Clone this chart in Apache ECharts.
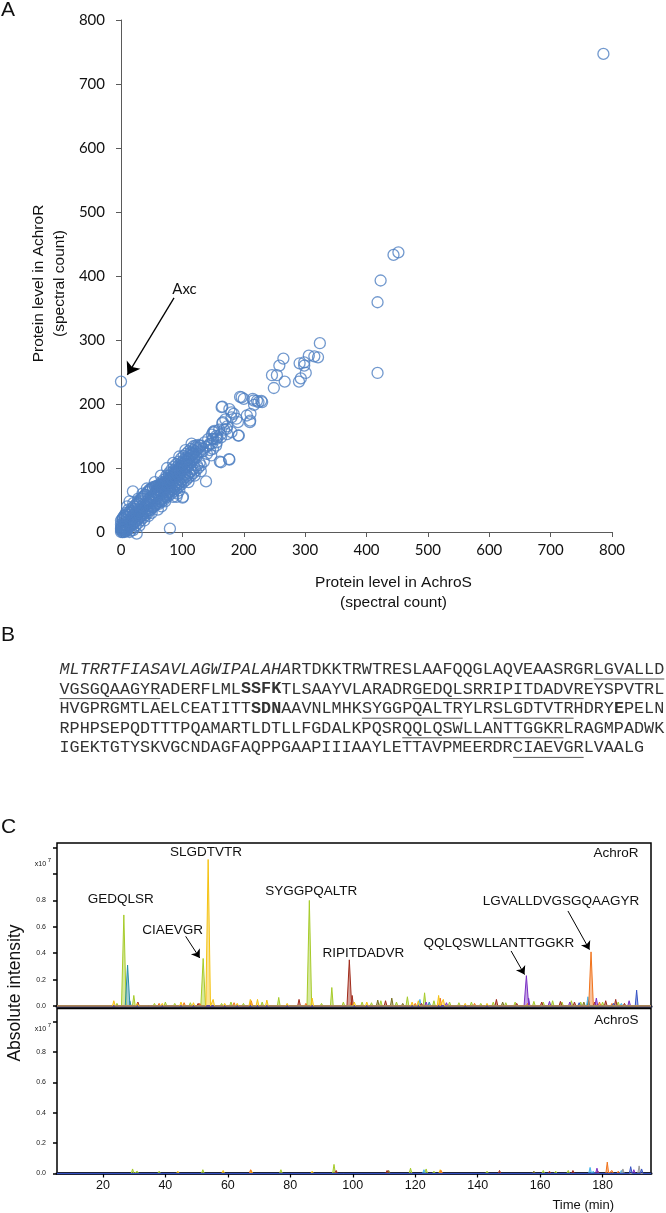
<!DOCTYPE html>
<html><head><meta charset="utf-8">
<script src="https://cdn.jsdelivr.net/npm/echarts@6/dist/echarts.min.js"></script>
<style>html,body{margin:0;padding:0;background:#fff}#c{width:666px;height:1213px}</style>
</head><body><div id="c"></div>
<script>
// ===== Panel A: protein spectral counts [AchroS, AchroR]
const spectralCounts = [
 [0,0],[2,3],[4,4],[6,7],[8,8],[10,11],[12,12],[14,15],[16,16],[18,19],[20,20],[22,23],[24,24],[26,27],[28,28],[30,31],[32,33],[34,35],[36,37],[38,39],[40,41],[42,44],[44,45],[46,48],[48,49],[50,52],[52,53],[54,56],[56,57],[58,60],[60,62],[62,64],[64,66],[66,68],[68,70],[70,72],[72,75],[74,76],[76,79],[78,80],[80,83],[82,85],[84,87],[86,89],[88,91],[90,93],[92,96],[94,97],[96,100],[98,101],[100,104],[103,107],[106,110],[109,113],[112,116],[115,120],[118,123],[121,126],[124,129],[127,132],
 [1,10],[4,16],[7,19],[10,24],[13,27],[16,30],[19,33],[22,36],[25,40],[28,44],[31,47],[34,52],[37,56],[40,58],[43,62],[46,66],[49,68],[52,70],[55,71],[58,72],[62,74],[66,78],[70,82],[74,88],[78,92],[82,97],[86,102],[90,106],[94,110],[98,115],[102,119],[106,122],[110,126],[114,130],[118,134],
 [3,0],[6,2],[9,4],[12,6],[15,9],[18,11],[21,14],[24,16],[27,19],[30,22],[33,24],[36,27],[39,29],[42,32],[45,34],[48,36],[51,39],[54,41],[57,43],[60,46],[63,48],[66,51],[69,53],[72,56],[75,58],[78,61],[81,64],[84,66],[87,69],[90,72],[93,74],[96,77],[99,80],[102,83],[105,86],[108,88],[111,92],[114,95],[117,98],[120,100],[124,104],[128,108],
 [1,7],[5,11],[9,15],[13,19],[17,23],[21,27],[25,31],[29,35],[33,39],[37,43],[41,47],[45,51],[49,55],[53,59],[57,63],[61,67],[65,71],[69,75],[73,79],[77,83],[81,87],[85,91],[89,95],[93,99],[97,103],[101,107],[105,111],[109,115],[113,119],[117,122],
 [7,1],[11,5],[15,9],[19,13],[23,17],[27,21],[31,25],[35,29],[39,33],[43,37],[47,41],[51,45],[55,49],[59,53],[63,57],[67,61],[71,65],[75,69],[79,73],[83,77],[87,81],[91,85],[95,89],[99,93],[103,97],[107,101],[111,105],[115,109],[119,113],[123,117],
 [0,18],[3,20],[6,23],[9,27],[12,30],[15,33],[18,37],[21,40],[24,43],[27,46],[30,49],[33,52],[36,55],[39,58],[44,63],[48,66],[52,68],[56,70],[60,71],[64,73],[68,76],
 [16,2],[20,6],[24,10],[28,14],[32,18],[36,22],[40,26],[44,30],[48,34],[52,38],[56,42],[64,50],[68,54],[72,58],[76,62],[80,66],[84,70],[88,74],[92,78],[96,82],[100,86],[104,90],
 [62,44],[66,47],[70,50],[74,54],[78,57],[82,60],[86,64],[90,67],[94,71],[98,74],[102,78],[106,81],[110,85],[114,88],[118,92],[122,96],[126,100],[130,104],
 [58,66],[62,70],[66,74],[70,78],[74,84],[78,88],[82,92],[86,96],[90,100],[94,104],[98,108],[102,112],[106,116],[110,120],[114,124],[118,128],[122,132],[126,136],
 [60,58],[64,62],[68,66],[72,70],[76,74],[80,78],[84,82],[88,86],[92,90],[96,94],[100,98],[104,102],[108,106],[112,110],[116,114],[120,118],[125,122],[129,126],[133,130],
 [0,3],[0,6],[2,0],[5,0],[8,1],[1,5],[3,8],[5,12],[0,12],[2,20],[6,26],[10,2],[14,0],[20,3],[30,10],[38,18],[45,25],[50,30],[60,35],[66,40],[72,48],[85,55],[92,60],[95,65],[110,78],[120,88],[130,95],
 [3,22],[8,30],[10,40],[14,48],[5,25],[12,35],[20,45],[28,52],[35,60],[42,68],[55,78],[65,88],[75,100],[85,108],[95,118],[105,128],[115,138],
 [130,135],[133,126],[136,140],[139,133],[142,145],[145,138],[148,152],[150,145],[152,158],[155,150],[157,148],[160,160],[162,152],[165,170],[168,160],[170,176],[173,165],[140,122],[145,128],[150,130],[135,110],[155,135],
 [324,295],[315,274.5],[306,275.5],[321,273],[298.5,265],[291,263.6],[298.5,260],[301,248.5],[293,240],[290,235],[264.6,271],[258,260],[254,245],[246,245],[249,225],[266.7,235],
 [194,211],[200,208],[214.7,208],[221.6,205],[228.6,205],[216.8,198.6],[164,195],[176.6,192],[183.6,184.6],[180,179],[211,184.6],[210,171.6],[190.5,171.6],[166,171.6],[192,150.8],[180,156],[173,153],[163,148],[152,156],[149,145.6],[156,140],[142,135],[128.6,135],[121.6,135],[147,119.6],[163,109],[176.6,113],[138.5,79],[100.4,53.6],[79.7,5.2],[19.4,63.4],[25.6,-2.6],
 [150,156],[155.5,145.6],[148,138],[172,161],[180,187],[188,177],[205,182],[210.5,174],[216,205.5],[224,203],[230,203],[161,110],[90.6,55],[101,55],[176,114],[191,150.6],[165,196],[196.5,210.5],
 [418,248.5],[0,235],[418,359],[423,393],[444,433],[452,437],[786,747]
];
const scatterTicks = [0,100,200,300,400,500,600,700,800];
const axcArrow = [[86.4,365.9],[10.4,245.6]];

// ===== Panel B: sequence segments  (n normal, i italic, b bold, u underlined)
const sequenceLines = [
 [['MLTRRTFIASAVLAGWIPALAHA','i'],['RTDKKTRWTRESLAAFQQGLAQVEAASRGR','n'],['LGVALLD','u']],
 [['VGSGQAAGYR','u'],['ADERFLML','n'],['SSFK','b'],['TLSAAYVLARADR','n'],['GEDQLSRRIPITDADVR','u'],['EYSPVTRL','n']],
 [['HVGPRGMTLAELCEATITT','n'],['SDN','b'],['AAVNLMHK','n'],['SYGGPQALTR','u'],['YLR','n'],['SLGDTVTR','u'],['HDRY','n'],['E','b'],['PELN','n']],
 [['RPHPSEPQDTTTPQAMARTLDTLLFGDALKPQSR','n'],['QQLQSWLLANTTGGKR','u'],['LRAGMPADWK','n']],
 [['IGEKTGTYSKVGCNDAGFAQPPGAAPIIIAAYLETTAVPMEERDR','n'],['CIAEVGR','u'],['LVAALG','n']]
];

// ===== Panel C: chromatogram peaks [time (min), intensity x10^7]
const timeTicks = [20,40,60,80,100,120,140,160,180];
const intensityTicks = [0,0.2,0.4,0.6,0.8];
const rYellowGreen = [[24.5,0.02],[26.7,0.69],[29.9,0.08],[33,0.015],[36.5,0.02],[40,0.03],[43,0.02],[48,0.025],[52.1,0.36],[58,0.02],[61,0.03],[65,0.02],[71,0.03],[76.3,0.065],[86.1,0.80],[90,0.02],[93.3,0.14],[97,0.03],[103,0.03],[106,0.025],[109,0.04],[114,0.03],[117.5,0.07],[123,0.10],[126,0.04],[131,0.03],[134,0.025],[138,0.03],[141,0.02],[145,0.03],[149,0.025],[152,0.03],[158,0.035],[161,0.03],[164,0.04],[167,0.03],[170,0.04],[173,0.03],[180,0.03],[185,0.03]];
const rGold = [[23.5,0.04],[31,0.02],[35,0.015],[39,0.02],[45,0.03],[49,0.025],[53.7,1.11],[55.3,0.05],[59,0.02],[63,0.02],[67.2,0.05],[69.5,0.05],[72.5,0.045],[79,0.02],[87,0.06],[100.5,0.03],[104.5,0.03],[119,0.03],[121,0.04],[127.5,0.08],[129,0.05],[136,0.02],[143,0.02]];
const rOrange = [[38,0.02],[46,0.025],[51,0.02],[62,0.025],[67.5,0.04],[85,0.02],[99.5,0.03],[120,0.02],[128,0.06],[139,0.02],[156,0.02],[176.3,0.41],[179,0.03],[183,0.02]];
const rTeal = [[27.9,0.31],[28.6,0.04],[124.5,0.03],[175.5,0.04]];
const rDarkRed = [[31.2,0.03],[50.5,0.02],[82.8,0.05],[98.9,0.35],[99.8,0.08],[110.5,0.04],[122,0.02],[146,0.05],[152.5,0.02],[160.5,0.03],[166.5,0.035],[171,0.03],[177.5,0.03],[181,0.04],[184.2,0.05],[187,0.02]];
const rPurple = [[123.5,0.03],[130,0.025],[155.6,0.23],[156.3,0.06],[163,0.035],[169.5,0.03],[178,0.06],[188.5,0.04]];
const rBlue = [[172.5,0.025],[183.5,0.02],[190.9,0.12]];
const rLightBlue = [[121.5,0.05],[175.3,0.07],[186,0.02]];
const rOlive = [[108,0.045],[112.5,0.06],[116,0.02],[148,0.03],[174,0.03]];

const sYellowGreen = [[25,0.01],[29.5,0.03],[31,0.015],[38,0.015],[40.5,0.01],[52,0.025],[55,0.01],[63,0.01],[77,0.025],[80,0.01],[94,0.06],[99,0.01],[113,0.01],[118.5,0.035],[123.5,0.03],[126,0.015],[133,0.01],[143,0.015],[150,0.01],[161,0.02],[165,0.015],[169,0.02]];
const sGold = [[24,0.01],[34,0.01],[44,0.015],[49,0.01],[58.5,0.02],[67.5,0.02],[71,0.01],[87,0.015],[106,0.01],[128,0.025],[138,0.01],[157,0.01]];
const sOrange = [[50,0.01],[67.3,0.025],[86,0.01],[128.3,0.02],[146,0.01],[181.5,0.075],[183,0.02],[185,0.015]];
const sDarkRed = [[84,0.012],[94.7,0.02],[111,0.02],[147,0.02],[163,0.015],[170.5,0.02],[178.5,0.015]];
const sLightBlue = [[122.8,0.025],[176,0.04],[177,0.015],[186,0.02]];
const sPurple = [[127,0.01],[159,0.01],[178.2,0.035],[190,0.025]];
const sBlue = [[189,0.045],[192.5,0.03]];
const sGray = [[186.5,0.03],[191.7,0.05]];
const sOlive = [[111.5,0.02],[158,0.015],[174,0.01]];

const peakLabels = [
 ['SLGDTVTR',53.0,1.165],['GEDQLSR',25.7,0.808],['CIAEVGR',42.3,0.574],['SYGGPQALTR',86.7,0.871],
 ['RIPITDADVR',103.4,0.40],['QQLQSWLLANTTGGKR',146.8,0.473],['LGVALLDVGSGQAAGYR',166.7,0.79]
];
const peakArrows = [[[46.5,0.528],[51.0,0.364]],[[150.7,0.417],[155.0,0.238]],[[168.9,0.72],[175.8,0.427]]];

// ===== build
const T_MIN = 5.3, T_MAX = 195.5;
const COLORS = {yg:'#a6cb2a', gold:'#f5c211', orange:'#f0731c', teal:'#2b8ea5', red:'#a02c1c', purple:'#7a2ec4', blue:'#3552c4', lblue:'#46b4ea', olive:'#77701f', gray:'#9a9a9a'};
function trace(peaks){
  const pts = [[T_MIN,0]];
  peaks.slice().sort((a,b)=>a[0]-b[0]).forEach(([t,h])=>{
    const w = h > 0.15 ? 0.75 : 0.45;
    pts.push([t-w,0],[t,h],[t+w,0]);
  });
  pts.push([T_MAX,0]);
  return pts;
}
function lineSeries(peaks, color, gi, extra){
  return Object.assign({
    type:'line', xAxisIndex:gi, yAxisIndex:gi, data:trace(peaks), showSymbol:false, symbol:'none',
    silent:true, clip:true, lineStyle:{color:color, width:1}, areaStyle:{color:color, opacity:0.45}
  }, extra||{});
}

const chart = echarts.init(document.getElementById('c'), null, {renderer:'canvas'});
const sansA = 'Lato';
const axisA = (isX)=>({
  type:'value', gridIndex:0, min:0, max:800, interval:100,
  axisLine:{show:true, onZero:false, lineStyle:{color:'#5a5a5a', width:1}},
  axisTick:{show:true, length:5, lineStyle:{color:'#5a5a5a', width:1}},
  splitLine:{show:false},
  axisLabel:{fontFamily:sansA, fontSize:15, color:'#111', margin: isX ? 11 : 16}
});
const axisCx = (gi, showLabels)=>({
  type:'value', gridIndex:gi, min:T_MIN, max:T_MAX,
  axisLine:{show:true, onZero:false, lineStyle:{color:'#1e2238', width:3}},
  axisTick:{show:showLabels, length:4, customValues:timeTicks, lineStyle:{color:'#000', width:1.2}},
  axisLabel:{show:showLabels, customValues:timeTicks, fontFamily:'Liberation Sans', fontSize:12.5, color:'#111', margin:6},
  splitLine:{show:false}
});
const axisCy = (gi, max, tickVals)=>({
  type:'value', gridIndex:gi, min:0, max:max,
  axisLine:{show:false},
  axisTick:{show:true, length:4, customValues:tickVals, lineStyle:{color:'#000', width:1.5}},
  axisLabel:{customValues:intensityTicks, formatter:(v)=>v.toFixed(1), fontFamily:'Liberation Sans', fontSize:7, color:'#222', margin:11},
  splitLine:{show:false}
});

const series = [
  { type:'scatter', xAxisIndex:0, yAxisIndex:0, data:spectralCounts, symbol:'circle', symbolSize:11, clip:false, silent:true,
    itemStyle:{color:'rgba(0,0,0,0)', borderColor:'#4f7fc2', borderWidth:1.3},
    markLine:{silent:true, symbol:['none','arrow'], symbolSize:12, label:{show:false},
      lineStyle:{color:'#000', width:1.3, type:'solid'},
      data:[[{coord:axcArrow[0]},{coord:axcArrow[1]}]]}
  },
  lineSeries(rYellowGreen, COLORS.yg, 1, {markLine:{silent:true, symbol:['none','arrow'], symbolSize:8, label:{show:false},
      lineStyle:{color:'#000', width:1, type:'solid'}, data: peakArrows.map(a=>[{coord:a[0]},{coord:a[1]}])}}),
  lineSeries(rOlive, COLORS.olive, 1),
  lineSeries(rLightBlue, COLORS.lblue, 1),
  lineSeries(rTeal, COLORS.teal, 1),
  lineSeries(rOrange, COLORS.orange, 1),
  lineSeries(rDarkRed, COLORS.red, 1),
  lineSeries(rPurple, COLORS.purple, 1),
  lineSeries(rBlue, COLORS.blue, 1),
  lineSeries(rGold, COLORS.gold, 1),
  lineSeries(sYellowGreen, COLORS.yg, 2),
  lineSeries(sOlive, COLORS.olive, 2),
  lineSeries(sGold, COLORS.gold, 2),
  lineSeries(sLightBlue, COLORS.lblue, 2),
  lineSeries(sOrange, COLORS.orange, 2),
  lineSeries(sDarkRed, COLORS.red, 2),
  lineSeries(sPurple, COLORS.purple, 2),
  lineSeries(sGray, COLORS.gray, 2),
  lineSeries(sBlue, COLORS.blue, 2)
];

chart.setOption({
  animation:false,
  grid:[
    {left:121, top:20, width:491, height:512},
    {left:57, top:843, width:594, height:163, show:true, borderColor:'#000', borderWidth:1.5},
    {left:57, top:1008.5, width:594, height:165, show:true, borderColor:'#000', borderWidth:1.5}
  ],
  xAxis:[axisA(true), axisCx(1,false), axisCx(2,true)],
  yAxis:[axisA(false), axisCy(1,1.235,[0,0.2,0.4,0.6,0.8,1.0,1.2]), axisCy(2,1.086,[0,0.2,0.4,0.6,0.8,1.0])],
  series:series
});

// ===== annotations / text
const g = [];
function txt(x,y,text,font,align,rot){
  const el = {type:'text', x:x, y:y, silent:true,
    style:Object.assign({text:text, fill:'#111', textAlign:align||'center', textVerticalAlign:'middle', verticalAlign:'middle'}, font)};
  if (rot) el.rotation = rot;
  g.push(el);
}
// panel letters
const letterFont = {fontSize:21,fontFamily:'Liberation Sans'};
txt(8,10,'A',letterFont);
txt(8,635,'B',letterFont);
txt(8.5,827,'C',letterFont);
// panel A titles
const titleFont = {fontSize:15.5, fontFamily:'Liberation Sans'};
txt(393.5,583,'Protein level in AchroS',titleFont);
txt(393.5,603,'(spectral count)',titleFont);
txt(39,283.5,'Protein level in AchroR',titleFont,'center',Math.PI/2);
txt(59.5,283.5,'(spectral count)',titleFont,'center',Math.PI/2);
const axcPx = chart.convertToPixel({gridIndex:0}, axcArrow[0]);
txt(axcPx[0]+10.5, axcPx[1]-8.5,'Axc',{fontSize:15,fontFamily:sansA});

// panel B sequence
const CW = 10.08, X0 = 59.5;
sequenceLines.forEach((segs,li)=>{
  const y = 669.5 + li*19.6;
  let idx = 0;
  segs.forEach(([s,k])=>{
    const x = X0 + idx*CW;
    g.push({type:'text', x:x, y:y, silent:true, style:{text:s, fill:'#333', fontFamily:'Liberation Mono', fontSize:16.8,
      fontStyle: k==='i'?'italic':'normal', fontWeight: k==='b'?'bold':'normal', textAlign:'left', textVerticalAlign:'middle', verticalAlign:'middle'}});
    if (k==='u') g.push({type:'line', silent:true, shape:{x1:x, y1:y+9.5, x2:x+s.length*CW, y2:y+9.5}, style:{stroke:'#555', lineWidth:1}});
    idx += s.length;
  });
});

// panel C texts
const lblFont = {fontSize:13.5, fontFamily:'Liberation Sans'};
peakLabels.forEach(([s,t,v])=>{
  const p = chart.convertToPixel({gridIndex:1}, [t,v]);
  txt(p[0],p[1],s,lblFont);
});
txt(638.5,853,'AchroR',lblFont,'right');
txt(638.5,1020,'AchroS',lblFont,'right');
const smallFont = {fontSize:7,fontFamily:'Liberation Sans'};
const supFont = {fontSize:6,fontFamily:'Liberation Sans'};
txt(40.5,864.5,'x10',smallFont);
txt(49.5,860.5,'7',supFont);
txt(40.5,1029.5,'x10',smallFont);
txt(49.5,1025.5,'7',supFont);
txt(15,993,'Absolute intensity',{fontSize:17.5,fontFamily:'Liberation Sans'},'center',Math.PI/2);
txt(614,1205,'Time (min)',{fontSize:13,fontFamily:'Liberation Sans'},'right');

chart.setOption({graphic:g});
</script>
</body></html>
